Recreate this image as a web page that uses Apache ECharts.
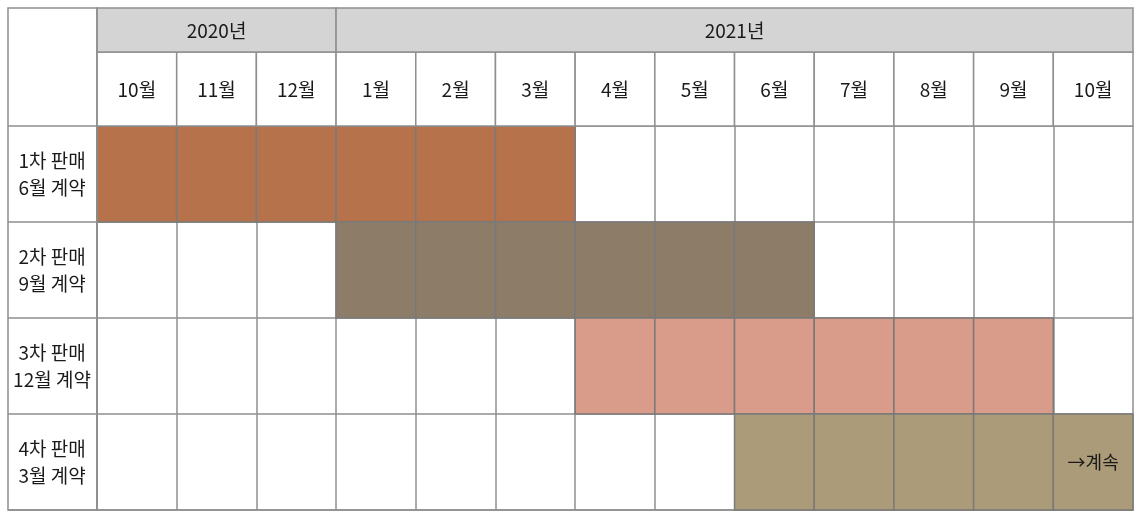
<!DOCTYPE html>
<html><head><meta charset="utf-8">
<script src="https://cdn.jsdelivr.net/npm/echarts@6/dist/echarts.min.js"></script>
<style>html,body{margin:0;padding:0;background:#fff}#c{width:1143px;height:518px}</style>
</head><body><div id="c"></div>
<script>
const years = ['2020년', '2021년'];
const yearStart = [0, 3];
const yearEnd = [3, 13];
const months = ['10월','11월','12월','1월','2월','3월','4월','5월','6월','7월','8월','9월','10월'];
const rowNames = ['1차 판매','2차 판매','3차 판매','4차 판매'];
const contracts = ['6월 계약','9월 계약','12월 계약','3월 계약'];
const startIdx = [0, 3, 6, 8];
const endIdx = [5, 8, 11, 12];
const colors = ['#B6724A', '#8C7C68', '#D99B8A', '#AB9B78'];
const notes = ['', '', '', '→계속'];

const FONT = '"Noto Sans CJK KR", "Noto Sans", sans-serif';
const LINE = '#8f8f8f';
const TXT = '#1a1a1a';
const L = 97, W = 1036;

const chart = echarts.init(document.getElementById('c'));
const monthIdx = months.map((m, i) => i);
const yRows = rowNames.map((r, i) => i);

chart.setOption({
  animation: false,
  textStyle: { fontFamily: FONT },
  graphic: [{
    type: 'rect', shape: { x: 8, y: 8, width: 89, height: 502 },
    style: { fill: 'none', stroke: LINE, lineWidth: 1.5 }, z: 50
  }],
  grid: [
    { left: L, top: 126, width: W, height: 384, show: false },
    { left: L, top: 52, width: W, height: 74, show: false },
    { left: L, top: 8, width: W, height: 44, show: false }
  ],
  xAxis: [
    { gridIndex: 0, type: 'category', data: monthIdx, boundaryGap: true,
      axisLabel: { show: false }, axisTick: { show: false },
      axisLine: { show: true, lineStyle: { color: LINE, width: 1.5 } },
      splitLine: { show: true, interval: 0, lineStyle: { color: LINE, width: 1.5 } } },
    { gridIndex: 1, type: 'category', data: monthIdx, boundaryGap: true,
      axisLabel: { show: false }, axisTick: { show: false }, axisLine: { show: false },
      splitLine: { show: false } },
    { gridIndex: 2, type: 'value', min: 0, max: 13, show: false }
  ],
  yAxis: [
    { gridIndex: 0, type: 'category', data: yRows, inverse: true, boundaryGap: true,
      axisLine: { show: true, lineStyle: { color: LINE, width: 1.5 } },
      axisTick: { show: true, length: 89, lineStyle: { color: LINE, width: 1.5 } },
      axisLabel: { show: true, margin: 45, align: 'center', fontSize: 19, lineHeight: 27,
        color: TXT, fontFamily: FONT,
        formatter: v => rowNames[+v] + '\n' + contracts[+v] },
      splitLine: { show: true, interval: 0, lineStyle: { color: LINE, width: 1.5 } } },
    { gridIndex: 1, type: 'value', min: 0, max: 1, show: false },
    { gridIndex: 2, type: 'value', min: 0, max: 1, show: false }
  ],
  series: [
    {
      type: 'custom', xAxisIndex: 0, yAxisIndex: 0, z: 5,
      data: yRows.map(i => [i, startIdx[i], endIdx[i]]),
      renderItem: (params, api) => {
        const row = api.value(0), s = api.value(1), e = api.value(2);
        const sz = api.size([1, 1]);
        const children = [];
        for (let m = s; m <= e; m++) {
          const c = api.coord([m, row]);
          children.push({ type: 'rect',
            shape: { x: c[0] - sz[0] / 2, y: c[1] - sz[1] / 2, width: sz[0], height: sz[1] },
            style: { fill: colors[row], stroke: '#7a7a7a', lineWidth: 1.5 } });
        }
        if (notes[row]) {
          const c = api.coord([e, row]);
          children.push({ type: 'text', x: c[0], y: c[1],
            style: { text: notes[row], fill: TXT, font: '18px ' + FONT, align: 'center', verticalAlign: 'middle' } });
        }
        return { type: 'group', children };
      }
    },
    {
      type: 'custom', xAxisIndex: 1, yAxisIndex: 1, z: 5,
      data: monthIdx.map(i => [i, 0.5]),
      renderItem: (params, api) => {
        const i = api.value(0);
        const c = api.coord([i, 0.5]);
        const sz = api.size([1, 1]);
        return { type: 'group', children: [
          { type: 'rect', shape: { x: c[0] - sz[0] / 2, y: c[1] - sz[1] / 2, width: sz[0], height: sz[1] },
            style: { fill: '#fff', stroke: LINE, lineWidth: 1.5 } },
          { type: 'text', x: c[0], y: c[1] + 1,
            style: { text: months[i], fill: TXT, font: '19px ' + FONT, align: 'center', verticalAlign: 'middle' } }
        ] };
      }
    },
    {
      type: 'custom', xAxisIndex: 2, yAxisIndex: 2, z: 5,
      data: years.map((y, i) => [yearStart[i], yearEnd[i], i]),
      renderItem: (params, api) => {
        const s = api.value(0), e = api.value(1), i = api.value(2);
        const p0 = api.coord([s, 1]), p1 = api.coord([e, 0]);
        return { type: 'group', children: [
          { type: 'rect', shape: { x: p0[0], y: p0[1], width: p1[0] - p0[0], height: p1[1] - p0[1] },
            style: { fill: '#D4D4D4', stroke: LINE, lineWidth: 1.5 } },
          { type: 'text', x: (p0[0] + p1[0]) / 2, y: (p0[1] + p1[1]) / 2 + 1,
            style: { text: years[i], fill: TXT, font: '19px ' + FONT, align: 'center', verticalAlign: 'middle' } }
        ] };
      }
    }
  ]
});
</script>
</body></html>
